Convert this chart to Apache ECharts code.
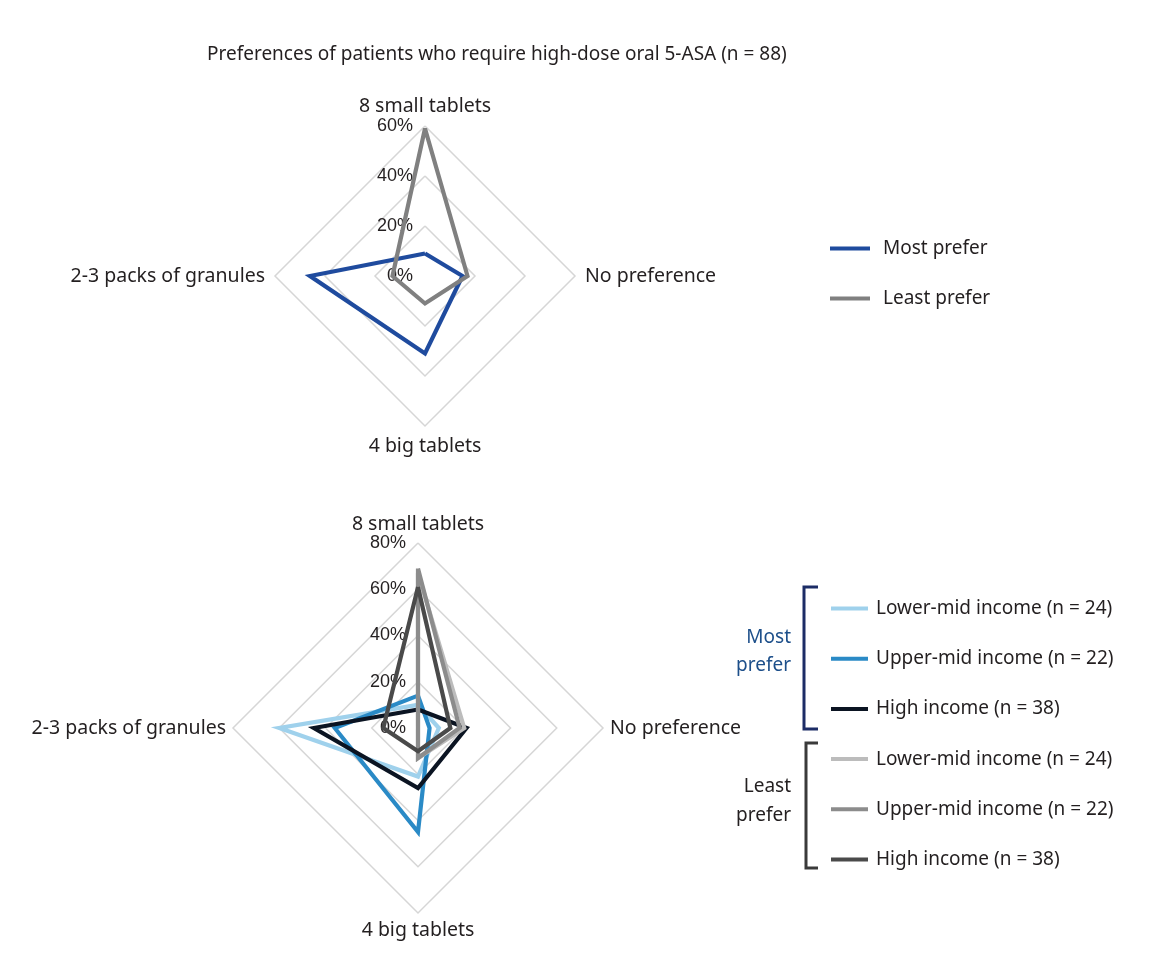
<!DOCTYPE html>
<html>
<head>
<meta charset="utf-8">
<script src="https://cdn.jsdelivr.net/npm/echarts@6/dist/echarts.min.js"></script>
<style>
html,body{margin:0;padding:0;background:#fff;}
#chart{width:1157px;height:971px;}
</style>
</head>
<body>
<div id="chart"></div>
<script>
// Indicator order: top, left, bottom, right (ECharts lays radar axes counter-clockwise)
const categories = ['8 small tablets', '2-3 packs of granules', '4 big tablets', 'No preference'];

// Top chart (n = 88), values in %
const topMax = 60;
const topMostPrefer = [9, 46, 31, 15];
const topLeastPrefer = [59, 13, 11, 17];
const topSeriesNames = ['Most prefer', 'Least prefer'];

// Bottom chart by income group, values in %
const bottomMax = 80;
const incomeGroups = ['Lower-mid income (n = 24)', 'Upper-mid income (n = 22)', 'High income (n = 38)'];
const mostLowerMid = [10, 60, 21, 9];
const mostUpperMid = [14, 36, 45, 5];
const mostHigh = [8, 45, 26, 21];
const leastLowerMid = [67, 0, 13, 20];
const leastUpperMid = [69, 0, 13, 18];
const leastHigh = [61, 15, 10, 14];

const titleText = 'Preferences of patients who require high-dose oral 5-ASA (n = 88)';

const FONT = '"Noto Sans", sans-serif';
const TXT = '#231f20';

function indicators(max) {
  return categories.map((c, i) => {
    const o = { name: c, max: max, min: 0 };
    if (i === 0) {
      o.axisLabel = {
        show: true, formatter: '{value}%', fontSize: 18, color: '#231f20',
        fontFamily: '"Liberation Sans", Arial, sans-serif', margin: 12
      };
    }
    return o;
  });
}

function radarCfg(center, radius, max, split, gap) {
  return {
    center: center,
    radius: radius,
    startAngle: 90,
    shape: 'polygon',
    splitNumber: split,
    indicator: indicators(max),
    axisName: { color: TXT, fontSize: 19.5, fontFamily: FONT },
    nameGap: gap,
    axisLine: { show: false },
    axisTick: { show: false },
    axisLabel: { show: false },
    splitLine: { lineStyle: { color: '#d6d6d6', width: 1.5 } },
    splitArea: { show: false }
  };
}

function item(name, values, color) {
  return {
    name: name,
    value: values,
    symbol: 'none',
    itemStyle: { color: color },
    lineStyle: { color: color, width: 4.2, join: 'miter' }
  };
}

const option = {
  backgroundColor: '#fff',
  animation: false,
  title: {
    text: titleText,
    left: 202, top: 40,
    textStyle: { fontFamily: FONT, fontSize: 19, fontWeight: 'normal', color: TXT }
  },
  radar: [
    radarCfg([425, 276], 150, topMax, 3, 10),
    radarCfg([418, 728], 185, bottomMax, 4, 7)
  ],
  legend: [
    {
      orient: 'vertical', left: 825, top: 234,
      itemWidth: 40, itemHeight: 4, itemGap: 31, icon: 'rect',
      textStyle: { fontFamily: FONT, fontSize: 19, color: TXT, padding: [0, 0, 0, 8] },
      data: topSeriesNames
    },
    {
      orient: 'vertical', left: 826, top: 594,
      itemWidth: 37, itemHeight: 4, itemGap: 31.2, icon: 'rect',
      textStyle: { fontFamily: FONT, fontSize: 19, color: TXT, padding: [0, 0, 0, 3] },
      formatter: function (n) { return n.split('|')[1]; },
      data: [
        'Most|' + incomeGroups[0], 'Most|' + incomeGroups[1], 'Most|' + incomeGroups[2],
        'Least|' + incomeGroups[0], 'Least|' + incomeGroups[1], 'Least|' + incomeGroups[2]
      ]
    }
  ],
  graphic: [
    { type: 'polyline', shape: { points: [[818, 587], [804, 587], [804, 729], [818, 729]] },
      style: { stroke: '#1c2c66', lineWidth: 3, fill: null } },
    { type: 'polyline', shape: { points: [[818, 743], [806, 743], [806, 868], [818, 868]] },
      style: { stroke: '#3a3a3a', lineWidth: 3, fill: null } },
    { type: 'text', x: 791, y: 638, style: { text: 'Most', align: 'right', verticalAlign: 'middle', fill: '#1d4f8a', font: '19px "Noto Sans", sans-serif' } },
    { type: 'text', x: 791, y: 666, style: { text: 'prefer', align: 'right', verticalAlign: 'middle', fill: '#1d4f8a', font: '19px "Noto Sans", sans-serif' } },
    { type: 'text', x: 791, y: 787, style: { text: 'Least', align: 'right', verticalAlign: 'middle', fill: TXT, font: '19px "Noto Sans", sans-serif' } },
    { type: 'text', x: 791, y: 816, style: { text: 'prefer', align: 'right', verticalAlign: 'middle', fill: TXT, font: '19px "Noto Sans", sans-serif' } }
  ],
  series: [
    {
      type: 'radar', radarIndex: 0, symbol: 'none',
      lineStyle: { width: 4.2 },
      data: [
        item(topSeriesNames[0], topMostPrefer, '#1f4b9e'),
        item(topSeriesNames[1], topLeastPrefer, '#808080')
      ]
    },
    {
      type: 'radar', radarIndex: 1, symbol: 'none',
      lineStyle: { width: 4.2 },
      data: [
        item('Most|' + incomeGroups[0], mostLowerMid, '#9fd1ec'),
        item('Most|' + incomeGroups[1], mostUpperMid, '#2a8ac6'),
        item('Most|' + incomeGroups[2], mostHigh, '#0b1422'),
        item('Least|' + incomeGroups[0], leastLowerMid, '#bcbcbc'),
        item('Least|' + incomeGroups[1], leastUpperMid, '#8c8c8c'),
        item('Least|' + incomeGroups[2], leastHigh, '#4a4a4a')
      ]
    }
  ]
};

const chart = echarts.init(document.getElementById('chart'), null, { renderer: 'canvas' });
chart.setOption(option);
</script>
</body>
</html>
